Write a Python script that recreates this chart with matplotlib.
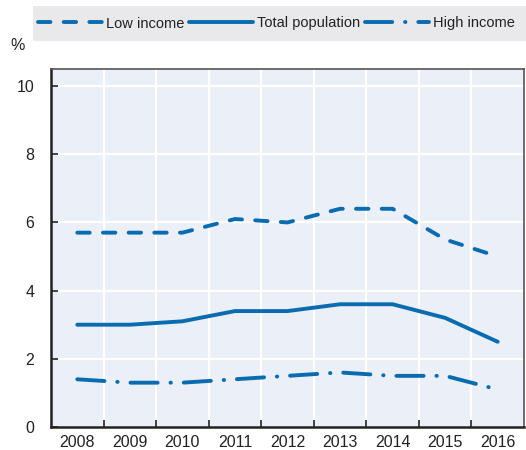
import matplotlib
matplotlib.use("Agg")
import matplotlib.pyplot as plt
from matplotlib.patches import Rectangle

years = ["2008", "2009", "2010", "2011", "2012", "2013", "2014", "2015", "2016"]
low_income = [5.7, 5.7, 5.7, 6.1, 6.0, 6.4, 6.4, 5.5, 5.0]
total_population = [3.0, 3.0, 3.1, 3.4, 3.4, 3.6, 3.6, 3.2, 2.5]
high_income = [1.4, 1.3, 1.3, 1.4, 1.5, 1.6, 1.5, 1.5, 1.1]

plt.rcParams["font.family"] = ["Liberation Sans", "DejaVu Sans"]

blue = "#0a6cb0"
fig = plt.figure(figsize=(5.26, 4.5), dpi=100)
ax = fig.add_axes([51 / 526, 1 - 427 / 450, 473 / 526, 358 / 450])
ax.set_facecolor("#ebeff7")

x = list(range(len(years)))
style = dict(color=blue, lw=2.8, dash_capstyle="round", solid_capstyle="round")
ax.plot(x, low_income, dashes=(3.2, 3.4), label="Low income", **style)
ax.plot(x, total_population, label="Total population", **style)
ax.plot(x, high_income, dashes=(7.0, 3.3, 0.1, 3.3), label="High income", **style)

ax.set_xlim(-0.5, len(years) - 0.5)
ax.set_ylim(0, 10.5)
ax.set_yticks([0, 2, 4, 6, 8, 10])
ax.set_xticks(x)
ax.set_xticklabels(years)
ax.set_xticks([i + 0.5 for i in x[:-1]], minor=True)

for i in x[:-1]:
    ax.axvline(i + 0.5, color="white", lw=1.6, zorder=0)
for v in [2, 4, 6, 8, 10]:
    ax.axhline(v, color="white", lw=1.6, zorder=0)

ax.tick_params(axis="x", which="major", length=0, pad=6, labelsize=11.5, labelcolor="#222222")
ax.tick_params(axis="x", which="minor", direction="in", length=5, width=1.2, color="#222222")
ax.tick_params(axis="y", direction="in", length=5, width=1.2, color="#222222",
               pad=12, labelsize=11.5, labelcolor="#222222")

for side in ["left", "bottom"]:
    ax.spines[side].set_linewidth(1.8)
    ax.spines[side].set_color("#222222")
for side in ["top", "right"]:
    ax.spines[side].set_linewidth(1.2)
    ax.spines[side].set_color("#555555")

# legend band at the top
fig.patches.append(Rectangle((33 / 526, 1 - 41 / 450), 1, 35 / 450,
                             transform=fig.transFigure, facecolor="#e9e9eb",
                             edgecolor="none", zorder=0))
handles, labels = ax.get_legend_handles_labels()
fig.legend(handles, labels, loc="center left", bbox_to_anchor=(38 / 526, 1 - 23.5 / 450),
           ncol=3, frameon=False, fontsize=10.5, handlelength=4.4, handletextpad=0.25,
           columnspacing=0.35, borderpad=0, borderaxespad=0, labelcolor="#222222")

fig.text(10 / 526, 1 - 45 / 450, "%", fontsize=11.5, color="#222222", va="center")

fig.savefig("out.png", dpi=100)
